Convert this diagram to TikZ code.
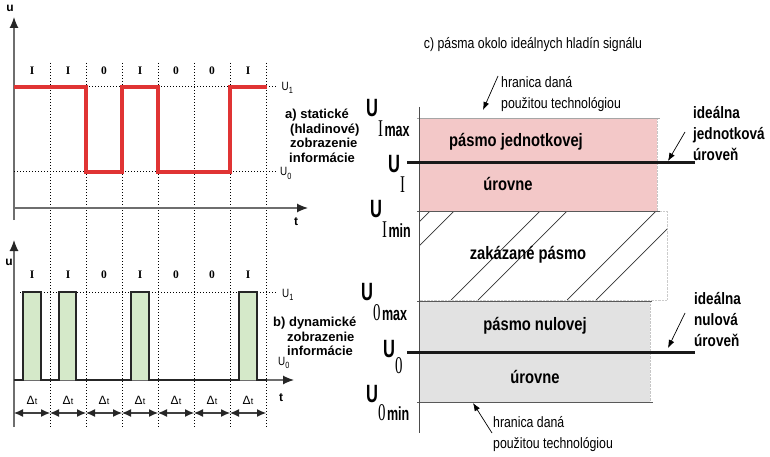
\documentclass[tikz,border=0pt]{standalone}
\usepackage{fontspec}
\setmainfont{Liberation Sans}
\newfontfamily\narrowfont[FakeStretch=0.82]{Liberation Sans}
\newfontfamily\condfont[FakeStretch=0.66,UprightFont={Liberation Sans Bold}]{Liberation Sans}
\newfontfamily\condserif[FakeStretch=0.62]{Liberation Serif}
\newfontfamily\bitfont{Liberation Serif}
\usetikzlibrary{arrows.meta}

\definecolor{signalred}{RGB}{224,52,52}
\definecolor{pulsegreen}{RGB}{213,233,201}
\definecolor{bandpink}{RGB}{243,200,200}
\definecolor{bandgray}{RGB}{226,226,226}
\definecolor{axisgray}{RGB}{110,110,110}

% popis urovne: U s velkym indexom
\newcommand{\levellabel}[3]{{\condfont U}\raisebox{-#3pt}{\condserif\fontsize{24}{24}\selectfont #1\hspace{1.5pt}{\condfont\fontsize{19}{19}\selectfont #2}}}
% maly popis U_1, U_0 pri grafoch
\newcommand{\smalllevel}[1]{U\raisebox{-3.5pt}{\fontsize{9}{9}\selectfont #1}}

\begin{document}
\begin{tikzpicture}[x=1pt,y=-1pt,
  bit/.style={font=\bitfont\bfseries\fontsize{11.5}{11.5}\selectfont, inner sep=0},
  axlbl/.style={font=\bfseries\fontsize{12}{12}\selectfont, inner sep=0},
  note/.style={font=\bfseries\fontsize{13}{14.5}\selectfont, align=left, anchor=north west, inner sep=0},
  lvl/.style={font=\narrowfont\fontsize{12}{12}\selectfont, anchor=base west, inner sep=0},
  biglvl/.style={font=\fontsize{25}{25}\selectfont, anchor=base west, inner sep=0},
  band/.style={font=\narrowfont\bfseries\fontsize{18}{18}\selectfont, inner sep=0},
  ideal/.style={font=\narrowfont\bfseries\fontsize{16.5}{21}\selectfont, align=left, anchor=north west, inner sep=0},
  bound/.style={font=\narrowfont\fontsize{15}{21}\selectfont, align=left, anchor=north west, inner sep=0},
  delta/.style={font=\fontsize{12}{12}\selectfont, inner sep=0},
  axis/.style={draw=axisgray, line width=1.2, -{Latex[length=11pt,width=9pt,color=black!85]}},
  grid/.style={dotted, line width=1},
  dt/.style={draw=black!75, line width=1.1, {Latex[length=9pt,width=8pt,color=black!85]}-{Latex[length=9pt,width=8pt,color=black!85]}},
  pointer/.style={draw=black, line width=0.7, -{Latex[length=8pt,width=6pt]}},
  hatch/.style={draw=black!80, line width=0.7}]
\useasboundingbox (0,0) rectangle (770,457);

% mriezka bitovych intervalov
\draw[grid] (50,63) -- (50,427);
\draw[grid] (86,63) -- (86,427);
\draw[grid] (122,63) -- (122,427);
\draw[grid] (158,63) -- (158,427);
\draw[grid] (194,63) -- (194,427);
\draw[grid] (230,63) -- (230,427);
\draw[grid] (266,63) -- (266,427);

% a) staticke zobrazenie
\draw[axis] (14,220) -- (14,17);
\draw[axis] (14,208) -- (308,208);
\node (ua) [axlbl] at (10,8) {u};
\node (ta) [axlbl] at (296,222) {t};

\draw[grid] (14,87) -- (277,87);
\draw[grid] (14,172) -- (277,172);

\node (ta1) [bit] at (32,71) {I};
\node (ta2) [bit] at (68,71) {I};
\node (ta3) [bit] at (104,71) {0};
\node (ta4) [bit] at (140,71) {I};
\node (ta5) [bit] at (176,71) {0};
\node (ta6) [bit] at (212,71) {0};
\node (ta7) [bit] at (248,71) {I};

\draw[signalred, line width=3.8] (14,87) -- (86,87) -- (86,172) -- (122,172) -- (122,87) -- (158,87)
  -- (158,172) -- (230,172) -- (230,87) -- (267,87);

\node (u1a) [lvl] at (281.5,90.5) {\smalllevel{1}};
\node (u0a) [lvl] at (280,175.5) {\smalllevel{0}};
\node (popisa) [note] at (285,109) {a) statické\\\hspace*{5pt}(hladinové)\\\hspace*{5pt}zobrazenie\\\hspace*{4pt}informácie};

% b) dynamicke zobrazenie
\draw[axis] (14,427) -- (14,240);
\draw[axis] (14,380) -- (294,380);
\node (ub) [axlbl] at (9,262) {u};
\node (tb) [axlbl] at (281,398) {t};

\draw[grid] (20,292) -- (277,292);

\node (tb1) [bit] at (32,275) {I};
\node (tb2) [bit] at (68,275) {I};
\node (tb3) [bit] at (104,275) {0};
\node (tb4) [bit] at (140,275) {I};
\node (tb5) [bit] at (176,275) {0};
\node (tb6) [bit] at (212,275) {0};
\node (tb7) [bit] at (248,275) {I};

\fill[pulsegreen] (23,292) rectangle (41,380);
\fill[pulsegreen] (59,292) rectangle (76,380);
\fill[pulsegreen] (131,292) rectangle (149,380);
\fill[pulsegreen] (239,292) rectangle (257,380);
\draw[black!85, line width=1.8] (14,380) -- (23,380) -- (23,292) -- (41,292) -- (41,380) -- (59,380)
  -- (59,292) -- (76,292) -- (76,380) -- (131,380) -- (131,292) -- (149,292) -- (149,380)
  -- (239,380) -- (239,292) -- (257,292) -- (257,380) -- (267,380);

\node (u1b) [lvl] at (282,297) {\smalllevel{1}};
\node (u0b) [lvl] at (278,365) {\smalllevel{0}};
\node (popisb) [note] at (273,317) {b) dynamické\\\hspace*{14pt}zobrazenie\\\hspace*{14pt}informácie};

% intervaly delta t
\coordinate (d0) at (14,413);
\coordinate (d1) at (50,413);
\coordinate (d2) at (86,413);
\coordinate (d3) at (122,413);
\coordinate (d4) at (158,413);
\coordinate (d5) at (194,413);
\coordinate (d6) at (230,413);
\coordinate (d7) at (266,413);
\draw[dt] (d0) -- (d1);
\draw[dt] (d1) -- (d2);
\draw[dt] (d2) -- (d3);
\draw[dt] (d3) -- (d4);
\draw[dt] (d4) -- (d5);
\draw[dt] (d5) -- (d6);
\draw[dt] (d6) -- (d7);
\node (dt1) [delta] at (32,400) {Δ{\fontsize{9}{9}\selectfont t}};
\node (dt2) [delta] at (68,400) {Δ{\fontsize{9}{9}\selectfont t}};
\node (dt3) [delta] at (104,400) {Δ{\fontsize{9}{9}\selectfont t}};
\node (dt4) [delta] at (140,400) {Δ{\fontsize{9}{9}\selectfont t}};
\node (dt5) [delta] at (176,400) {Δ{\fontsize{9}{9}\selectfont t}};
\node (dt6) [delta] at (212,400) {Δ{\fontsize{9}{9}\selectfont t}};
\node (dt7) [delta] at (248,400) {Δ{\fontsize{9}{9}\selectfont t}};

% c) pasma okolo hladin
\node (nadpisc) [font=\narrowfont\fontsize{15}{15}\selectfont, inner sep=0] at (533,45) {c) pásma okolo ideálnych hladín signálu};

\fill[bandpink] (419,118) rectangle (657,211);
\fill[bandgray] (419,301) rectangle (650,402);
\draw[densely dotted, gray!45] (657,118) -- (657,211);
\draw[densely dotted, gray!45] (650,301) -- (650,402);
\draw[densely dotted, gray!40] (419,211) rectangle (667,300);

% zakazane pasmo
\begin{scope}
  \clip (419,211) rectangle (667,300);
  \draw[hatch] (341,300) -- ++(130,-130);
  \draw[hatch] (365,300) -- ++(130,-130);
  \draw[hatch] (451,300) -- ++(130,-130);
  \draw[hatch] (478,300) -- ++(130,-130);
  \draw[hatch] (567,300) -- ++(130,-130);
  \draw[hatch] (596,300) -- ++(130,-130);
\end{scope}

\draw[gray!70, line width=0.8] (417,118) -- (660,118);
\draw[black!65, line width=0.9] (417,211) -- (660,211);
\draw[black!65, line width=0.9] (417,301) -- (652,301);
\draw[black!65, line width=0.9] (417,402) -- (653,402);
\draw[black!70, line width=0.9] (419,107) -- (419,433);

\draw[black!90, line width=3] (407,163) -- (695,163);
\draw[black!90, line width=3] (407,352) -- (695,352);

\node (pasmoI) [band] at (516,142) {pásmo jednotkovej};
\node (urovneI) [band] at (508,184) {úrovne};
\node (zakaz) [band] at (528,255) {zakázané pásmo};
\node (pasmo0) [band] at (535,326) {pásmo nulovej};
\node (urovne0) [band] at (535,377) {úrovne};

\node (uimax) [biglvl] at (366,117) {\levellabel{I}{max}{20}};
\node (ui) [biglvl] at (388,172) {\levellabel{I}{}{20}};
\node (uimin) [biglvl] at (370,217) {\levellabel{I}{min}{20}};
\node (u0max) [biglvl] at (361,300) {\levellabel{0}{max}{20}};
\node (u0) [biglvl] at (383,357) {\levellabel{0}{}{16}};
\node (u0min) [biglvl] at (366,402) {\levellabel{0}{min}{18}};

% hranice a idealne urovne
\node (hranicaH) [bound] at (501,76) {hranica daná\\použitou technológiou};
\node (hranicaD) [bound] at (493,416) {hranica daná\\použitou technológiou};
\coordinate (hHa) at (498,76);
\coordinate (hHb) at (483,110);
\coordinate (hDa) at (492,433);
\coordinate (hDb) at (473,403);
\draw[pointer] (hHa) -- (hHb);
\draw[pointer] (hDa) -- (hDb);

\node (idealI) [ideal] at (693,106) {ideálna\\jednotková\\úroveň};
\node (ideal0) [ideal] at (694,292) {ideálna\\nulová\\úroveň};
\coordinate (iIa) at (685,132);
\coordinate (iIb) at (668,161);
\coordinate (i0a) at (685,313);
\coordinate (i0b) at (668,348);
\draw[pointer] (iIa) -- (iIb);
\draw[pointer] (i0a) -- (i0b);
\end{tikzpicture}
\end{document}
